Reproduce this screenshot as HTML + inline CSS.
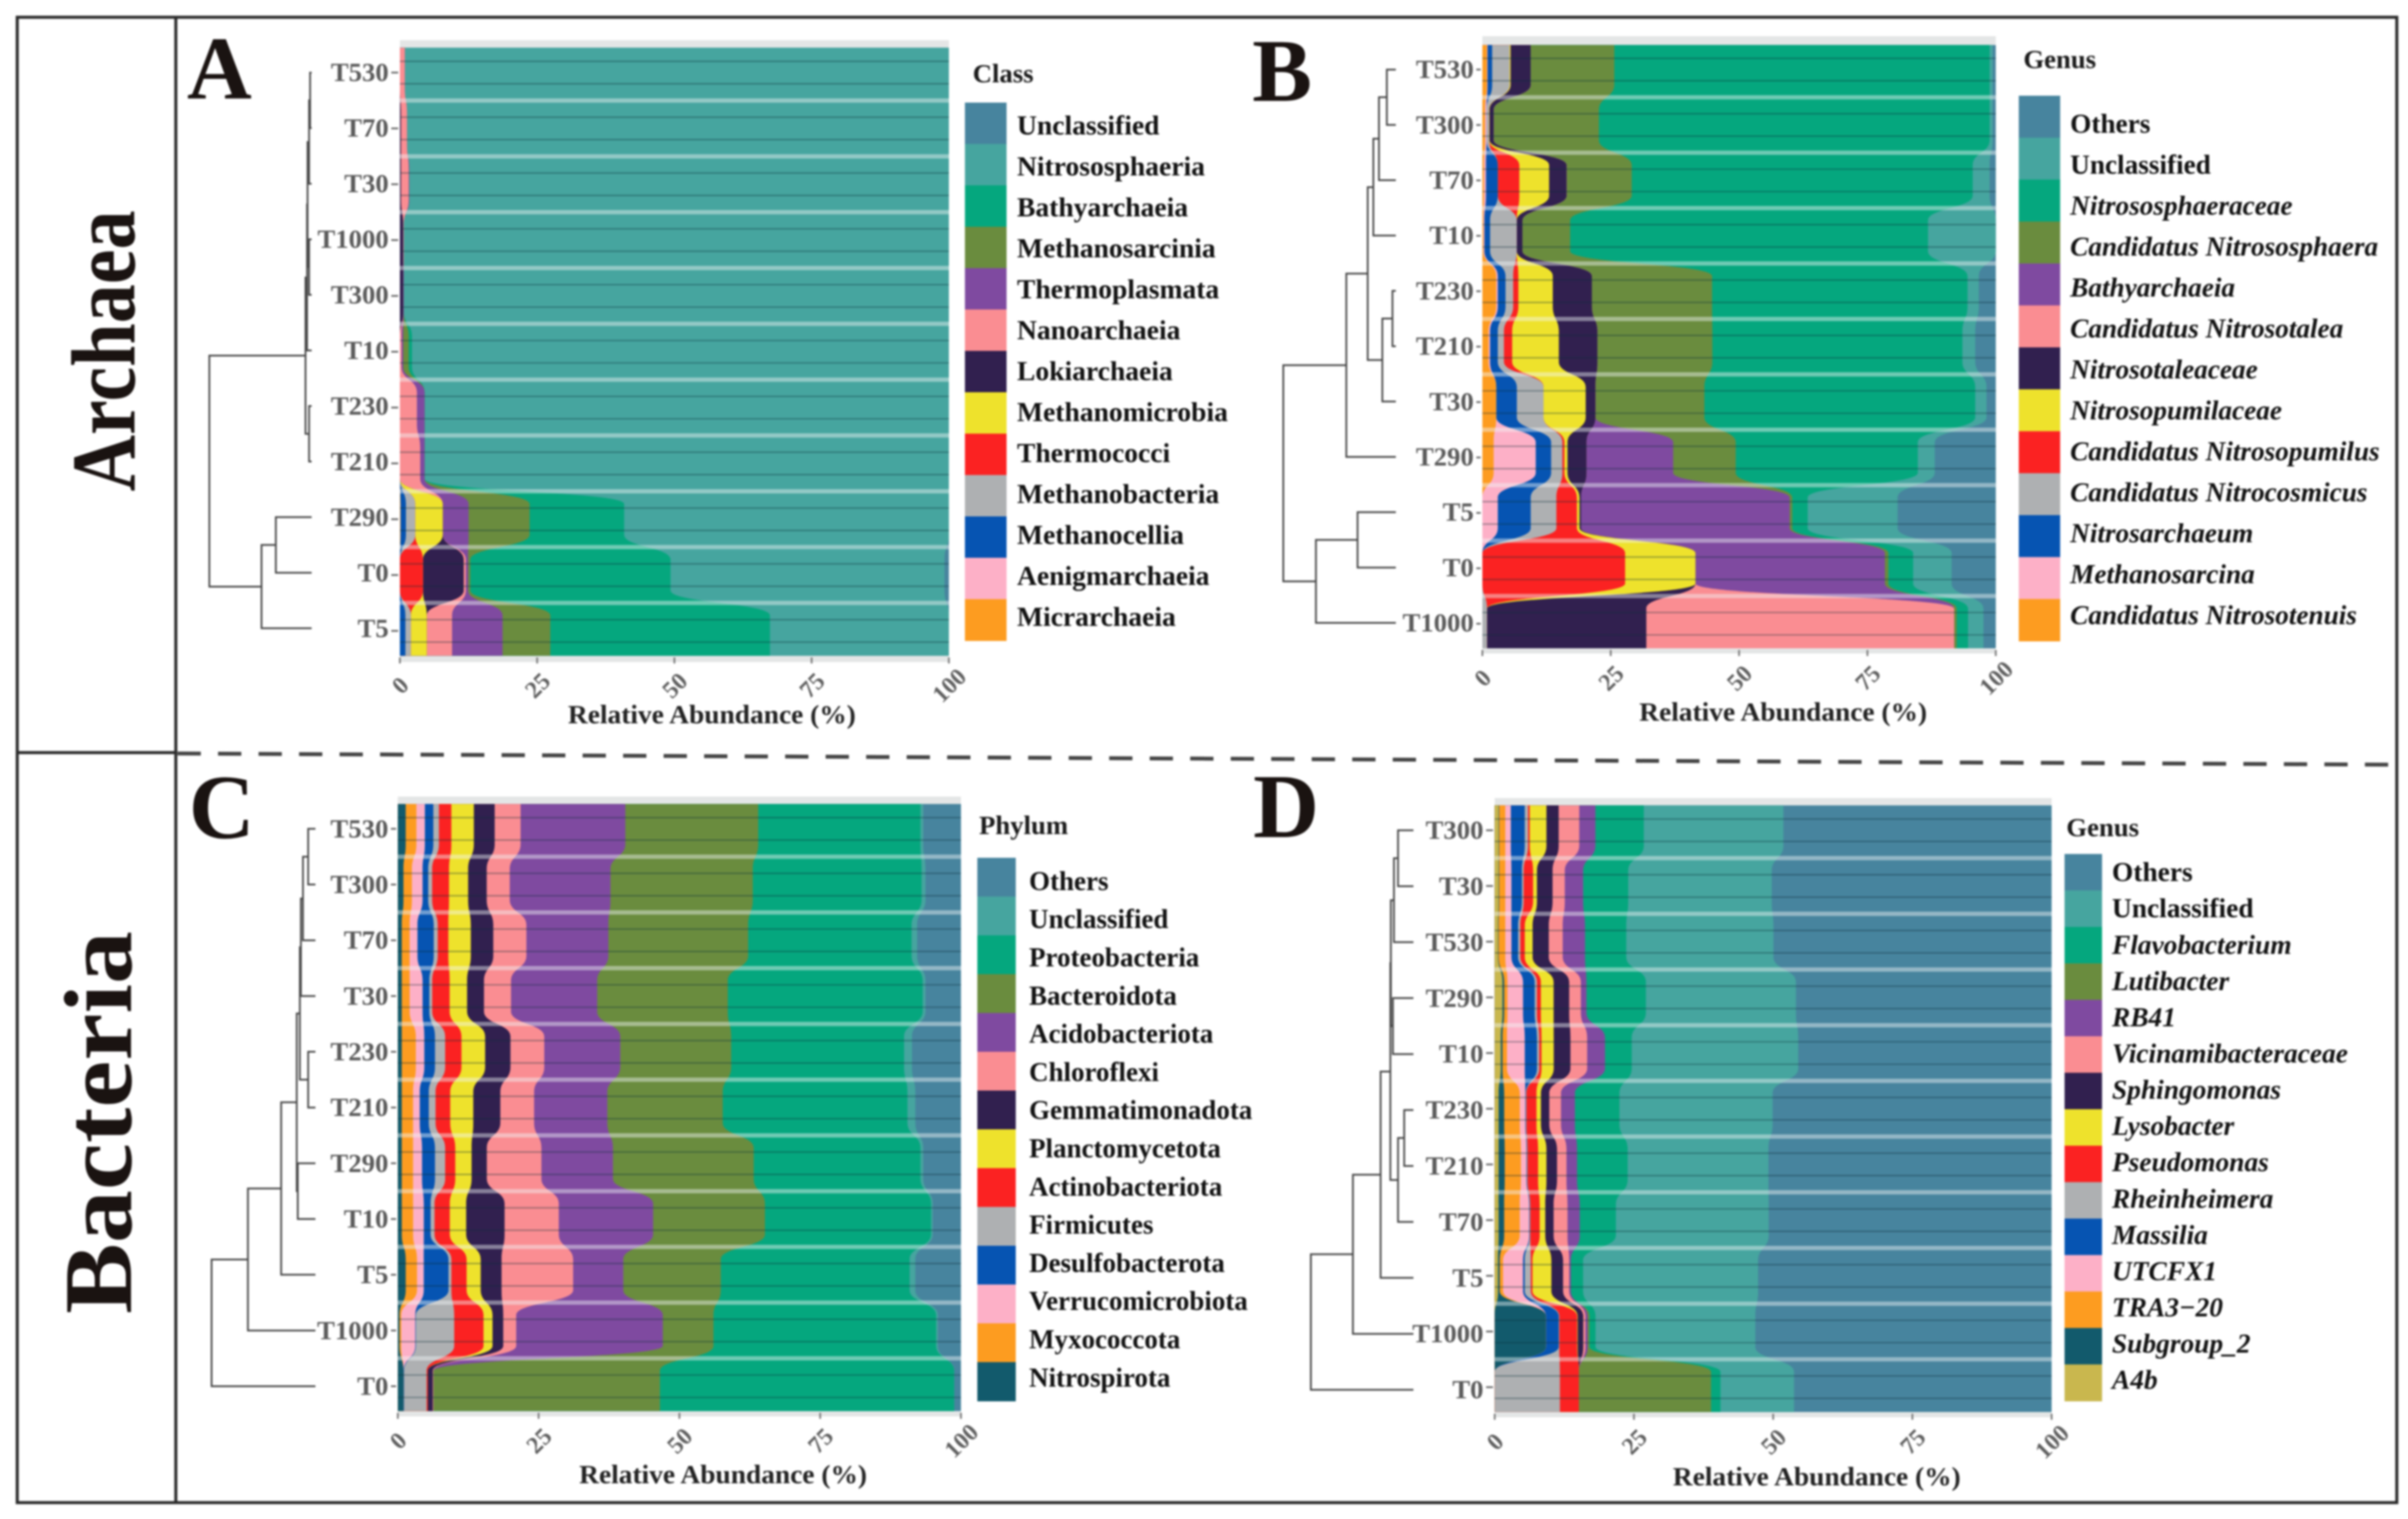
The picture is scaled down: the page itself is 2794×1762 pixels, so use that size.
<!DOCTYPE html>
<html lang="en">
<head>
<meta charset="utf-8">
<title>Archaea and Bacteria relative abundance</title>
<style>
  html, body { margin: 0; padding: 0; background: #fff; }
  svg { display: block; filter: blur(1.1px); font-family: "Liberation Serif", serif; font-weight: bold; }
</style>
</head>
<body>
<svg id="figure" xmlns="http://www.w3.org/2000/svg" width="2794" height="1762" viewBox="0 0 2794 1762">
  <rect x="0" y="0" width="2794" height="1762" fill="#ffffff"/>
  <rect x="20" y="20" width="2761" height="1723" fill="none" stroke="#2a2a2a" stroke-width="3.5"/>
  <line x1="204" y1="20" x2="204" y2="1743" stroke="#2a2a2a" stroke-width="3.5"/>
  <line x1="20" y1="873" x2="204" y2="873" stroke="#2a2a2a" stroke-width="3.5"/>
  <line x1="206" y1="874" x2="2781" y2="887" stroke="#444444" stroke-width="4.5" stroke-dasharray="27 20"/>
  <text transform="translate(156 407) rotate(-90)" text-anchor="middle" font-size="106" textLength="326" lengthAdjust="spacingAndGlyphs" fill="#1a1311">Archaea</text>
  <text transform="translate(152 1302) rotate(-90)" text-anchor="middle" font-size="112" textLength="444" lengthAdjust="spacingAndGlyphs" fill="#1a1311">Bacteria</text>
  <text x="217" y="114" font-size="104" fill="#1a1311">A</text>
  <text x="1453" y="117" font-size="104" fill="#1a1311">B</text>
  <text x="219" y="972" font-size="106" fill="#1a1311">C</text>
  <text x="1454" y="971" font-size="106" fill="#1a1311">D</text>
</svg>

<script>
const xTicks = [0, 25, 50, 75, 100];
const axisTitle = "Relative Abundance (%)";

/* ---------- Panel A: Archaea, class ---------- */
const aSamples = ["T530","T70","T30","T1000","T300","T10","T230","T210","T290","T0","T5"];
const aSeries = ["Micrarchaeia","Aenigmarchaeia","Methanocellia","Methanobacteria","Thermococci","Methanomicrobia","Lokiarchaeia","Nanoarchaeia","Thermoplasmata","Methanosarcinia","Bathyarchaeia","Nitrososphaeria","Unclassified"];
const aT530  = [0,0,0,0,0,0,0,0.9,0,0,0,99.1,0];
const aT70   = [0,0,0,0,0,0,0.2,1.1,0,0,0,98.7,0];
const aT30   = [0,0,0,0,0,0,0.2,1.4,0.1,0,0,98.3,0];
const aT1000 = [0,0,0,0,0,0,0.6,0.1,0,0,0,99.3,0];
const aT300  = [0,0,0,0,0,0,0.6,0,0.1,0,0,99.3,0];
const aT10   = [0,0,0,0,0,0,0,0.3,0.3,1.0,0.6,97.8,0];
const aT230  = [0,0,0,0,0,0,0,3.1,1.4,0,0,95.5,0];
const aT210  = [0,0,0,0,0,0,0,3.7,0.8,0,0,95.5,0];
const aT290  = [0.1,0,1.0,1.7,0,5,0,0,4.7,11.1,17.2,59.1,0];
const aT0    = [0,0,0,0,4.2,0,7.4,0.4,0.4,0.4,36.4,49.8,0.8];
const aT5    = [0,0,1,1,0,2.9,0,4.6,9.2,8.7,40,32.6,0];
const aValues = [aT530,aT70,aT30,aT1000,aT300,aT10,aT230,aT210,aT290,aT0,aT5];
const aTree = [1, [0.06, [0.045, [0.04, [0.025, [0.015, 0, 1], 2], [0.025, 3, 4]], 5], [0.025, 6, 7]], [0.49, [0.35, 8, 9], 10]];

/* ---------- Panel B: Archaea, genus ---------- */
const bSamples = ["T530","T300","T70","T10","T230","T210","T30","T290","T5","T0","T1000"];
const bSeries = ["Candidatus Nitrosotenuis","Methanosarcina","Nitrosarchaeum","Candidatus Nitrocosmicus","Candidatus Nitrosopumilus","Nitrosopumilaceae","Nitrosotaleaceae","Candidatus Nitrosotalea","Bathyarchaeia","Candidatus Nitrososphaera","Nitrososphaeraceae","Unclassified","Others"];
const bT530  = [0.9,0.1,0.9,3.4,0,0.2,3.9,0,0,16.3,73.1,0.6,0.6];
const bT300  = [0.5,0.3,0,0.5,0,0.1,0.8,0,0,20.5,76.1,0.6,0.6];
const bT70   = [0.3,0.4,2.3,0,4.2,5.8,3.4,0,0,12.7,66.4,3.3,1.2];
const bT10   = [0.2,0.2,1.1,5.2,0,0,1.1,0,0,9.3,69.7,13.2,0];
const bT230  = [2.7,0.3,1.5,1.5,1,6.7,7.6,0,0,23.4,49.7,2.2,3.3];
const bT210  = [1.2,0.3,1.5,1.2,1.6,9.1,7.5,0,0,22.4,48.7,2.5,4];
const bT30   = [2.7,0,4,5.2,0,8.2,1.9,0,0,21.2,52.7,2.2,1.8];
const bT290  = [2.2,8.2,3,2.2,0.4,0.6,3.7,0,16.9,12.2,35.5,3.3,11.9];
const bT5    = [0,3,6.4,5,4,0.5,0.3,0,40.6,0.5,3,17.5,19.1];
const bT0    = [0,0,0,0,27.8,13.7,0,0,36.9,0.7,4.8,7.5,8.6];
const bT1000 = [0,0,0,0.9,0,0,31,59.9,0,0.5,2.2,3,2.4];
const bValues = [bT530,bT300,bT70,bT10,bT230,bT210,bT30,bT290,bT5,bT0,bT1000];
const bTree = [1, [0.44, [0.25, [0.2, [0.15, [0.08, 0, 1], 2], 3], [0.12, [0.03, 4, 5], 6]], 7], [0.71, [0.34, 8, 9], 10]];

/* ---------- Panel C: Bacteria, phylum ---------- */
const cSamples = ["T530","T300","T70","T30","T230","T210","T290","T10","T5","T1000","T0"];
const cSeries = ["Nitrospirota","Myxococcota","Verrucomicrobiota","Desulfobacterota","Firmicutes","Actinobacteriota","Planctomycetota","Gemmatimonadota","Chloroflexi","Acidobacteriota","Bacteroidota","Proteobacteria","Unclassified","Others"];
const cT530  = [1.4,1.9,1.5,1.5,1,2.2,4,3.7,4.6,18.6,23.6,28.8,0.5,6.7];
const cT300  = [1,1.5,1.9,1,0.7,3,3.4,3.3,4.1,17.9,25.3,30,0.7,6.3];
const cT70   = [0.7,1.4,1.4,2.9,0.7,1.9,4,4,5.9,14.6,24.9,29.1,1,7.8];
const cT30   = [0.7,1.4,2.3,1.2,0.5,3.1,3.1,3,4.8,15.3,23.2,34.6,0.5,6.3];
const cT230  = [0.7,2.5,1.5,1.9,1.8,2.9,4.2,4.5,6,13.5,19.7,30.7,1.4,8.7];
const cT210  = [0.7,2,1.2,1.6,1.2,2.6,4.1,4.8,6,13,20.5,32.8,1.4,8.1];
const cT290  = [0.7,2,1.6,2.3,1.8,1.8,2.9,2.7,9.7,12.7,25,29.6,0.5,6.7];
const cT10   = [0.7,2,1.9,1.2,0.7,2.7,2.9,6.8,9.6,16.7,19.8,29.4,0.3,5];
const cT5    = [1.4,2,1.2,4.4,0.5,2.7,2.5,3.7,12.7,8.9,17.3,33.5,1,8.1];
const cT1000 = [0.3,0.3,2.5,0.1,6.8,5.2,1.6,1.9,2.3,26,9,39.5,0.3,4.1];
const cT0    = [1,0,0,0.1,4,0.2,0,0.9,0.1,0,40.2,52.2,0,1.2];
const cValues = [cT530,cT300,cT70,cT30,cT230,cT210,cT290,cT10,cT5,cT1000,cT0];
const cTree = [1, [0.65, [0.33, [0.18, [0.15, [0.14, [0.12, [0.07, 0, 1], 2], 3], [0.07, 4, 5]], [0.17, 6, 7]], 8], 9], 10];

/* ---------- Panel D: Bacteria, genus ---------- */
const dSamples = ["T300","T30","T530","T290","T10","T230","T210","T70","T5","T1000","T0"];
const dSeries = ["A4b","Subgroup_2","TRA3\u221220","UTCFX1","Massilia","Rheinheimera","Pseudomonas","Lysobacter","Sphingomonas","Vicinamibacteraceae","RB41","Lutibacter","Flavobacterium","Unclassified","Others"];
const dT300  = [0.7,0.1,1.1,1,2.5,0.6,0.3,3,2.2,3.7,2.9,0,8.7,25.1,48.2];
const dT30   = [0.7,0.1,1.1,1.1,1.9,0.3,1.7,0.7,2.8,2.2,3.3,0,8.1,25.8,50.3];
const dT530  = [0.6,0.1,1.2,1.1,1.2,0.4,0.8,1.4,2.9,2.5,4,0,7.4,26.4,49.9];
const dT290  = [1.4,0.3,0.6,2.8,2.1,0.4,0.7,2.3,2.8,2.1,1,0,10.7,27,46];
const dT10   = [1.1,0.3,0.8,3.2,2.2,0.4,0.4,2.2,3,3,3.2,0,4.8,29.9,45.5];
const dT230  = [0.7,1,2.8,1,0.1,0.1,1.8,0.8,1.5,2.1,2.5,0,8,27.5,50.1];
const dT210  = [0.7,1.1,2.9,1,0.1,0.1,1.9,1.5,1.9,1.7,1.9,0,9.1,25.3,50.9];
const dT70   = [0.7,1,2.8,1.7,0.1,0.1,1.7,1,1.5,2.5,2.2,0,6.5,27.5,50.9];
const dT5    = [0.6,0.3,0.6,3.6,0.3,1.1,0.3,3.4,2.1,1.1,0.3,0,2.2,31.5,52.8];
const dT1000 = [0,9.2,0,0,2.3,0.1,3.2,0.1,1,0.4,0.4,0.3,1.1,28.7,53.2];
const dT0    = [0,0,0,0,0,11.7,3.4,0,0,0,0,23.7,1.7,13.2,46.2];
const dValues = [dT300,dT30,dT530,dT290,dT10,dT230,dT210,dT70,dT5,dT1000,dT0];
const dTree = [1, [0.59, [0.32, [0.225, [0.22, [0.19, [0.15, 0, 1], 2], [0.2, 3, 4]], [0.15, [0.09, 5, 6], 7]], 8], 9], 10];

/* legend-order palette, top entry first */
const palette = ["#47849e","#46a59f","#05a77e","#6a8c3e","#7f4aa0","#fa8d92","#31204f","#eee22c","#fb2222","#aeb0b2","#0654b2","#fdb0c7","#fd9c20","#125a6c","#c9b74e"];

const panels = [
  { id:"a", title:"Class", samples:aSamples, series:aSeries, values:aValues, tree:aTree, italic:false,
    x0:464, x100:1101, c0:84.2, dy:64.76, half:28.8, bgTop:46.6, bgBottom:768, labelDrift:-0.3,
    tip:361.6, root:242.9, labelGap:13,
    swX:1119.6, swW:48.3, swTop:119, swBottom:743, legX:1180, leg0:146, legDy:47.5, legFont:32,
    titleX:1128.6, titleY:85, axX:826, axY:829 },
  { id:"b", title:"Genus", samples:bSamples, series:bSeries, values:bValues, tree:bTree, italic:true,
    x0:1720, x100:2315.7, c0:80.7, dy:64.28, half:28.5, bgTop:42, bgBottom:758, labelDrift:-0.1,
    tip:1619.6, root:1489, labelGap:10,
    swX:2342.4, swW:48, swTop:111, swBottom:743.5, legX:2402, leg0:144, legDy:47.5, legFont:31.6,
    titleX:2347.7, titleY:68.5, axX:2069, axY:826 },
  { id:"c", title:"Phylum", samples:cSamples, series:cSeries, values:cValues, tree:cTree, italic:false,
    x0:461.6, x100:1115, c0:961.4, dy:64.66, half:28.8, bgTop:924, bgBottom:1643, labelDrift:0,
    tip:366, root:245.5, labelGap:11,
    swX:1134, swW:44.6, swTop:995, swBottom:1625, legX:1194, leg0:1022.4, legDy:44.3, legFont:31.3,
    titleX:1136, titleY:957, axX:839, axY:1710.7 },
  { id:"d", title:"Genus", samples:dSamples, series:dSeries, values:dValues, tree:dTree, italic:true,
    x0:1734.3, x100:2380.5, c0:963.1, dy:64.6, half:28.8, bgTop:925.7, bgBottom:1644, labelDrift:0.3,
    tip:1640, root:1521, labelGap:13,
    swX:2395.5, swW:43.5, swTop:990.6, swBottom:1625, legX:2450.5, leg0:1012, legDy:42.07, legFont:31.8,
    titleX:2397.5, titleY:959.3, axX:2108, axY:1713 }
];

const SVG_NS = "http://www.w3.org/2000/svg";
const figure = document.getElementById("figure");

function make(tag, attrs, parent) {
  const node = document.createElementNS(SVG_NS, tag);
  for (const key in attrs) node.setAttribute(key, attrs[key]);
  parent.appendChild(node);
  return node;
}

function slug(text) {
  return String(text).toLowerCase().replace(/[^a-z0-9]+/g, "-").replace(/^-|-$/g, "");
}

function drawPanel(p) {
  const xScale = v => p.x0 + (p.x100 - p.x0) * v / 100;
  const yScale = i => p.c0 + p.dy * i;
  const labelY = i => yScale(i) + p.labelDrift * i;
  const treeX = h => p.tip - (p.tip - p.root) * h;
  const n = p.samples.length;

  const group = make("g", {}, figure);
  
  

  const bg = make("rect", { x: p.x0, y: p.bgTop, width: p.x100 - p.x0, height: p.bgBottom - p.bgTop, fill: "#e4e6e6" }, group);
  
  

  /* cumulative right boundaries, normalised to 100 % per sample */
  const totals = p.values.map(row => row.reduce((a, b) => a + b, 0));
  const cumulative = p.values.map((row, r) => {
    let running = 0;
    return row.map(v => { running += v; return running * 100 / totals[r]; });
  });

  /* painted from the outermost band inwards so adjacent bands never leave seams */
  for (let s = p.series.length - 1; s >= 0; s--) {
    const color = palette[p.series.length - 1 - s];
    let d = "M" + p.x0 + " " + (yScale(0) - p.half);
    d += " L" + xScale(cumulative[0][s]).toFixed(2) + " " + (yScale(0) - p.half);
    for (let r = 0; r < n; r++) {
      const x = xScale(cumulative[r][s]).toFixed(2);
      const c = yScale(r);
      if (r < n - 1) {
        const endY = c + p.half * 0.62;
        const nextY = yScale(r + 1) - p.half * 0.62;
        const midY = (endY + nextY) / 2;
        const nx = xScale(cumulative[r + 1][s]).toFixed(2);
        d += " L" + x + " " + endY.toFixed(2);
        d += " C" + x + " " + midY.toFixed(2) + " " + nx + " " + midY.toFixed(2) + " " + nx + " " + nextY.toFixed(2);
      } else {
        d += " L" + x + " " + (c + p.half).toFixed(2);
      }
    }
    d += " L" + p.x0 + " " + (yScale(n - 1) + p.half) + " Z";
    const band = make("path", { d: d, fill: color }, group);
    
    
  }

  /* dark hairlines and pale separators across each sample */
  for (let r = 0; r < n; r++) {
    [-13, 13].forEach(offset => {
      const hair = make("line", { x1: xScale(0), x2: xScale(100), y1: yScale(r) + offset, y2: yScale(r) + offset, stroke: "#0b2f3a", "stroke-opacity": 0.38, "stroke-width": 1.6 }, group);
      
      
    });
    if (r < n - 1) {
      const sepY = yScale(r) + p.dy / 2;
      const sep = make("line", { x1: xScale(0), x2: xScale(100), y1: sepY, y2: sepY, stroke: "#f2f6f6", "stroke-opacity": 0.45, "stroke-width": 5 }, group);
      
      
    }
  }

  /* sample labels and y ticks */
  p.samples.forEach((name, r) => {
    const tick = make("line", { x1: p.x0 - p.labelGap + 3, x2: p.x0 - 2, y1: yScale(r), y2: yScale(r), stroke: "#666", "stroke-width": 2 }, group);
    
    
    const label = make("text", { x: p.x0 - p.labelGap, y: labelY(r) + 10, "text-anchor": "end", "font-size": 31, fill: "#5a5a5a" }, group);
    label.textContent = name;
    
    
  });

  /* x axis */
  const bottom = yScale(n - 1) + p.half;
  xTicks.forEach(v => {
    const tick = make("line", { x1: xScale(v), x2: xScale(v), y1: bottom + 2, y2: bottom + 9, stroke: "#777", "stroke-width": 2 }, group);
    
    
    const label = make("text", { transform: "translate(" + (xScale(v) + 7) + " " + (bottom + 41) + ") rotate(-45)", "text-anchor": "middle", "font-size": 28, fill: "#5f5f5f" }, group);
    label.textContent = v;
    
    
  });
  const axis = make("text", { x: p.axX, y: p.axY + 10, "text-anchor": "middle", "font-size": 31, textLength: 334, lengthAdjust: "spacingAndGlyphs", fill: "#222222" }, group);
  axis.textContent = axisTitle;
  
  

  /* dendrogram */
  function drawNode(node) {
    if (typeof node === "number") return { x: p.tip, y: labelY(node) };
    const x = treeX(node[0]);
    const a = drawNode(node[1]);
    const b = drawNode(node[2]);
    const d = "M" + a.x + " " + a.y + " H" + x + " V" + b.y + " H" + b.x;
    const branch = make("path", { d: d, fill: "none", stroke: "#444444", "stroke-width": 2 }, group);
    
    
    return { x: x, y: (a.y + b.y) / 2 };
  }
  drawNode(p.tree);

  /* legend: top entry is the last stacked series */
  const title = make("text", { x: p.titleX, y: p.titleY + 10.5, "font-size": 31, fill: "#1a1a1a" }, group);
  title.textContent = p.title;
  
  
  const count = p.series.length;
  const swH = (p.swBottom - p.swTop) / count;
  for (let i = 0; i < count; i++) {
    const name = p.series[count - 1 - i];
    const swatch = make("rect", { x: p.swX, y: p.swTop + swH * i, width: p.swW, height: swH + 0.5, fill: palette[i] }, group);
    
    
    const plain = name === "Others" || name === "Unclassified";
    const text = make("text", { x: p.legX, y: p.leg0 + p.legDy * i + p.legFont * 0.32, "font-size": p.legFont, "font-style": (p.italic && !plain) ? "italic" : "normal", fill: "#111111" }, group);
    text.textContent = name;
    
    
  }
}

panels.forEach(drawPanel);
</script>
</body>
</html>
